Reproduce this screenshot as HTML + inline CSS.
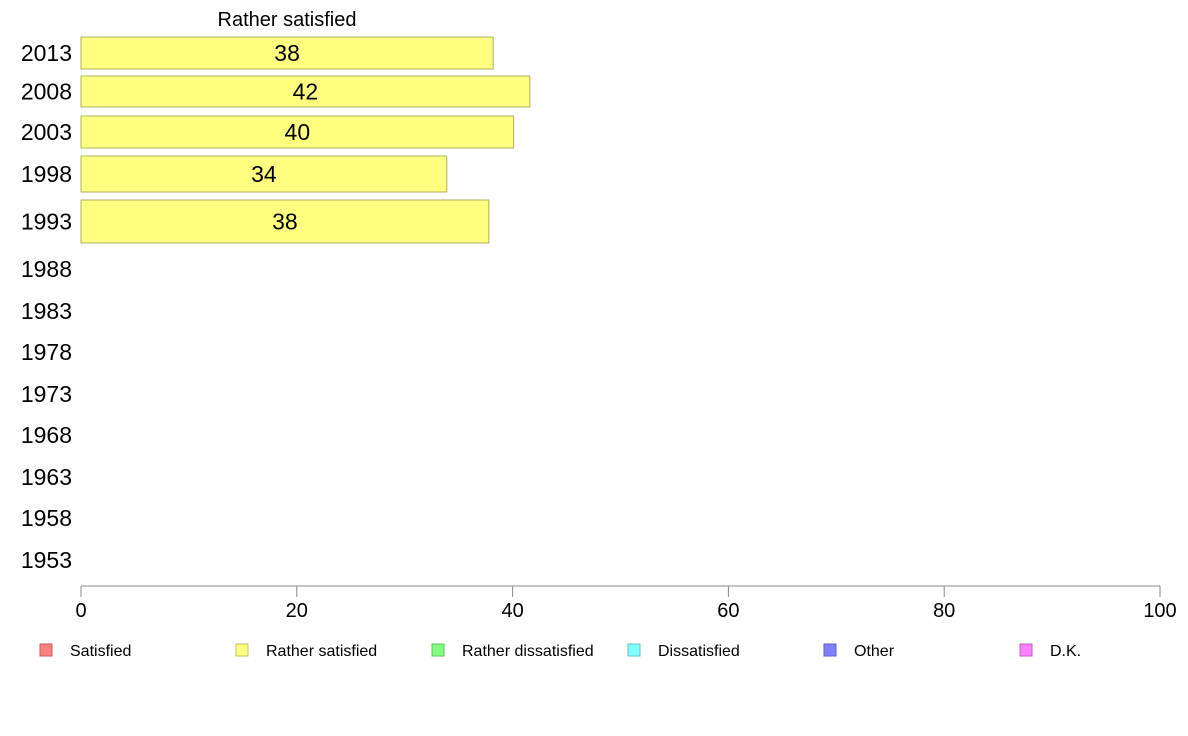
<!DOCTYPE html>
<html><head><meta charset="utf-8"><style>
body{margin:0;background:#fff;}
svg{display:block;font-family:"Liberation Sans",Arial,sans-serif;}
</style></head><body>
<svg id="chart" width="1188" height="736" xmlns="http://www.w3.org/2000/svg">
<text x="287" y="26" font-size="20" text-anchor="middle">Rather satisfied</text>
<g id="rows"></g>
<g id="bars"></g>
<g id="xaxis"></g>
<g id="legend"></g>
</svg>
<script>
const years = ["2013","2008","2003","1998","1993","1988","1983","1978","1973","1968","1963","1958","1953"];
const values = [38.2, 41.6, 40.1, 33.9, 37.8];
const valueLabels = ["38","42","40","34","38"];
const xTicks = [0,20,40,60,80,100];
const legendLabels = ["Satisfied","Rather satisfied","Rather dissatisfied","Dissatisfied","Other","D.K."];
const legendColors = ["#ff8080","#ffff80","#80ff80","#80ffff","#8080ff","#ff80ff"];
const legendStroke = ["#c06060","#c0c060","#60c060","#60c0c0","#6060c0","#c060c0"];

// layout (not data): row bands top/bottom
const rowTop = [37,76,116,156,200,250,292,333,375,416,458,499,541];
const rowBot = [69,107,148,192,243,288,330,371,413,454,496,537,579];
const NS = "http://www.w3.org/2000/svg";
const x0 = 81, x1 = 1160, axisY = 586;
const xs = v => x0 + (x1 - x0) * v / 100;
function mk(tag, attrs, parent){const e=document.createElementNS(NS,tag);for(const k in attrs)e.setAttribute(k,attrs[k]);parent.appendChild(e);return e;}
const rows=document.getElementById('rows'), bars=document.getElementById('bars'), xa=document.getElementById('xaxis'), lg=document.getElementById('legend');

years.forEach((y,i)=>{
  const cy=(rowTop[i]+rowBot[i])/2;
  const t=mk('text',{x:72,y:cy+8,'font-size':23,'text-anchor':'end'},rows);
  
  
  t.textContent=y;
});
values.forEach((v,i)=>{
  const r=mk('rect',{x:x0,y:rowTop[i],width:xs(v)-x0,height:rowBot[i]-rowTop[i],fill:'#ffff80',stroke:'#b0b060','stroke-width':1},bars);
  
  
  const t=mk('text',{x:xs(v/2),y:(rowTop[i]+rowBot[i])/2+8,'font-size':23,'text-anchor':'middle'},bars);
  
  
  t.textContent=valueLabels[i];
});
const al=mk('line',{x1:x0,x2:x1,y1:axisY,y2:axisY,stroke:'#888','stroke-width':1},xa);


xTicks.forEach(v=>{
  const l=mk('line',{x1:xs(v),x2:xs(v),y1:axisY,y2:axisY+11,stroke:'#888','stroke-width':1},xa);
  
  
  const t=mk('text',{x:xs(v),y:617,'font-size':20,'text-anchor':'middle'},xa);
  
  
  t.textContent=v;
});
legendLabels.forEach((n,i)=>{
  const lx=40+i*196;
  const r=mk('rect',{x:lx,y:644,width:12,height:12,fill:legendColors[i],stroke:legendStroke[i],'stroke-width':1},lg);
  
  
  const t=mk('text',{x:lx+30,y:656,'font-size':16},lg);
  
  
  t.textContent=n;
});
</script>
</body></html>
